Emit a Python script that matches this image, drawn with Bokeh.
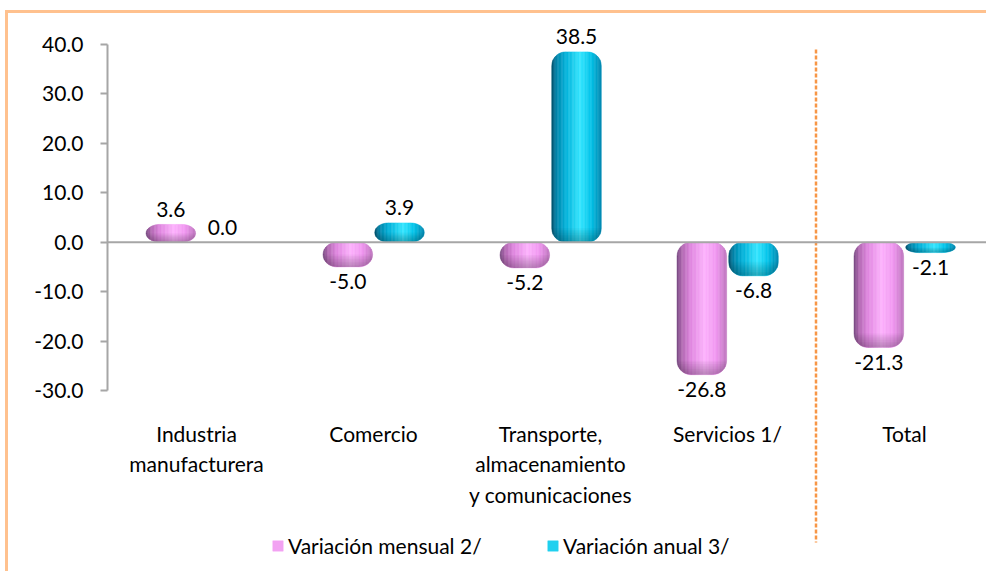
import math
from bokeh.plotting import figure
from bokeh.models import (Range1d, FixedTicker, NumeralTickFormatter, Span, Legend, LegendItem,
                          ColumnDataSource)
from bokeh.core.properties import value
from bokeh.embed import file_html
from bokeh.resources import INLINE

# ---------------- data ----------------
categories = ["Industria\nmanufacturera", "Comercio",
              "Transporte,\nalmacenamiento\ny comunicaciones", "Servicios 1/", "Total"]
mensual = [3.6, -5.0, -5.2, -26.8, -21.3]
anual = [0.0, 3.9, 38.5, -6.8, -2.1]
series_names = ["Variación mensual 2/", "Variación anual 3/"]
y_ticks = [-30, -20, -10, 0, 10, 20, 30, 40]

# ---------------- style ----------------
FONT = "Lato"
FS = "21px"
PX_X = 177.0     # pixels per category unit
PX_Y = 4.943     # pixels per value unit
BAR_W = 0.28
OFFS = [-0.145, 0.147]
R_PX = 14.0
N_STRIPS = 36

pink_stops = [(0.0, "#70407a"), (0.1, "#b068b0"), (0.28, "#e086e0"), (0.56, "#fcb2fc"),
              (0.8, "#f096f0"), (1.0, "#bd74bd")]
cyan_stops = [(0.0, "#004e68"), (0.1, "#0084aa"), (0.28, "#00b0d8"), (0.58, "#35e6ff"),
              (0.8, "#00c2e8"), (1.0, "#0088b0")]
BORDER = "#ffc18e"


def hex2rgb(h):
    h = h.lstrip("#")
    return tuple(int(h[i:i + 2], 16) for i in (0, 2, 4))


def grad(stops, t):
    for (t0, c0), (t1, c1) in zip(stops[:-1], stops[1:]):
        if t <= t1:
            a = (t - t0) / (t1 - t0) if t1 > t0 else 0
            r0, g0, b0 = hex2rgb(c0)
            r1, g1, b1 = hex2rgb(c1)
            return "#%02x%02x%02x" % (round(r0 + (r1 - r0) * a), round(g0 + (g1 - g0) * a),
                                      round(b0 + (b1 - b0) * a))
    return stops[-1][1]


W, H = 986, 571
LEFT = 107
x_start = -(196 - LEFT) / PX_X
x_end = x_start + (W - LEFT) / PX_X
y_end = 40 + 44 / PX_Y
y_start = y_end - H / PX_Y

p = figure(width=W, height=H, output_backend="svg", toolbar_location=None,
           x_range=Range1d(x_start, x_end), y_range=Range1d(y_start, y_end),
           x_axis_location=None, min_border_left=LEFT, min_border_right=0,
           min_border_top=0, min_border_bottom=0)
p.outline_line_color = None
p.grid.visible = False
p.background_fill_color = None
p.border_fill_color = None
# chart-area frame (top and left edges visible in the reference)
p.styles = {
    "background-color": "white",
    "background-image": "linear-gradient(%s,%s), linear-gradient(%s,%s)" % (BORDER, BORDER, BORDER, BORDER),
    "background-position": "5px 10px, 5px 10px",
    "background-size": "3px 100%, 100% 3px",
    "background-repeat": "no-repeat",
}

yax = p.yaxis[0]
yax.bounds = (min(y_ticks), max(y_ticks))
yax.ticker = FixedTicker(ticks=y_ticks)
yax.formatter = NumeralTickFormatter(format="0.0")
yax.axis_line_color = "#a6a6a6"
yax.axis_line_width = 2
yax.major_tick_line_color = "#a6a6a6"
yax.major_tick_line_width = 2
yax.major_tick_out = 7
yax.major_tick_in = 0
yax.minor_tick_line_color = None
yax.major_label_standoff = 17
yax.major_label_text_font = FONT
yax.major_label_text_font_size = FS
yax.major_label_text_color = "#000000"

# zero line
p.add_layout(Span(location=0, dimension="width", line_color="#a6a6a6", line_width=2))

# separator before "Total"
sep_x = (len(categories) - 2) + 0.5
p.segment(x0=[sep_x], x1=[sep_x], y0=[40 - 5 / PX_Y], y1=[-30 - 152 / PX_Y],
          line_color="#f79646", line_width=2.5, line_dash="4 2")

rx = R_PX / PX_X
RY = R_PX / PX_Y


def bar_geom(c, v):
    x0 = c - BAR_W / 2
    x1 = c + BAR_W / 2
    hi, lo = max(0.0, v), min(0.0, v)
    ry = min(RY, (hi - lo) / 2)
    return x0, x1, hi, lo, ry


def strip_poly(c, v, k):
    x0, x1, hi, lo, ry = bar_geom(c, v)
    sw = BAR_W / N_STRIPS
    xa, xb = x0 + k * sw, x0 + (k + 1) * sw
    xs = [xa + (xb - xa) * i / 4 for i in range(5)]

    def inset(x):
        if x < x0 + rx:
            u = (x0 + rx - x) / rx
        elif x > x1 - rx:
            u = (x - (x1 - rx)) / rx
        else:
            u = 0.0
        u = min(u, 1.0)
        return ry * (1 - math.sqrt(max(0.0, 1 - u * u)))

    top = [hi - inset(x) for x in xs]
    bot = [lo + inset(x) for x in xs]
    return xs + xs[::-1], top + bot[::-1]


def bottom_cap_poly(c, v, frac):
    x0, x1, hi, lo, ry = bar_geom(c, v)
    d = ry * frac
    ys = [lo + d * i / 10 for i in range(11)]

    def xin(y):
        w = (lo + ry - y) / ry if ry > 0 else 0
        w = min(max(w, 0.0), 1.0)
        return rx * (1 - math.sqrt(max(0.0, 1 - w * w)))

    left = [x0 + xin(y) for y in ys]
    right = [x1 - xin(y) for y in ys]
    return left + right[::-1], ys + ys[::-1]


xpos = list(range(len(categories)))
legend_rs = []
for si, (vals, stops) in enumerate([(mensual, pink_stops), (anual, cyan_stops)]):
    mid_r = None
    for k in range(N_STRIPS):
        xsl, ysl = [], []
        for c, v in zip(xpos, vals):
            if v == 0:
                continue
            a, b = strip_poly(c + OFFS[si], v, k)
            xsl.append(a)
            ysl.append(b)
        col = grad(stops, (k + 0.5) / N_STRIPS)
        r = p.patches(xs=xsl, ys=ysl, fill_color=col, line_color=col, line_width=0.5)
        if k == int(N_STRIPS * 0.45):
            mid_r = r
    legend_rs.append(mid_r)

    # soft shading at the lower end of each bar
    for i in range(8):
        frac = 1.0 - i * 0.12
        xsl, ysl = [], []
        for c, v in zip(xpos, vals):
            if v == 0:
                continue
            a, b = bottom_cap_poly(c + OFFS[si], v, frac)
            xsl.append(a)
            ysl.append(b)
        p.patches(xs=xsl, ys=ysl, fill_color="#000000", fill_alpha=0.03, line_color=None)

    # value labels
    pos = [v for v in vals if v >= 0]
    neg = [v for v in vals if v < 0]
    src_p = ColumnDataSource(dict(x=[c + OFFS[si] for c, v in zip(xpos, vals) if v >= 0],
                                  y=pos, t=["%.1f" % v for v in pos]))
    src_n = ColumnDataSource(dict(x=[c + OFFS[si] for c, v in zip(xpos, vals) if v < 0],
                                  y=neg, t=["%.1f" % v for v in neg]))
    for src, off in [(src_p, -15), (src_n, 15)]:
        p.text(x="x", y="y", text="t", source=src, y_offset=off, text_align="center",
               text_baseline="middle", text_font=value(FONT), text_font_size=FS,
               text_color="#000000")

# category labels
p.text(x=xpos, y=[-30 - 30 / PX_Y] * len(xpos), text=categories, text_align="center",
       text_baseline="top", text_font=value(FONT), text_font_size=FS, text_color="#000000",
       text_line_height=1.23)

# legends
for name, r, lx in zip(series_names, legend_rs, [271 - LEFT, 546 - LEFT]):
    lg = Legend(items=[LegendItem(label=name, renderers=[r])], location=(lx, 13),
                orientation="horizontal", padding=0, margin=0, glyph_width=13, glyph_height=13,
                label_standoff=4, border_line_color=None, background_fill_alpha=0,
                label_text_font=FONT, label_text_font_size=FS, label_text_color="#000000")
    p.add_layout(lg, "center")

open("out.html", "w").write(file_html(p, INLINE))
